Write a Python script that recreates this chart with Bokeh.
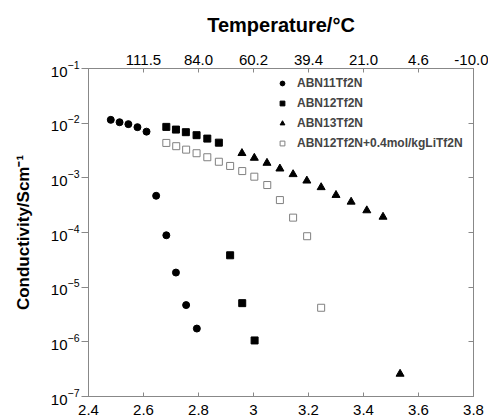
from bokeh.plotting import figure
from bokeh.models import (LinearAxis, LogAxis, FixedTicker, LogTickFormatter,
                          Legend, LegendItem, Range1d)
from bokeh.embed import file_html
from bokeh.resources import INLINE

# Data (x = 1000/T in K^-1, y = conductivity S/cm)
abn11_x = [2.481, 2.513, 2.545, 2.578, 2.611, 2.646, 2.683, 2.718, 2.755, 2.794]
abn11_y = [0.0115, 0.0104, 0.0096, 0.00845, 0.0070, 4.7e-4, 8.9e-5, 1.85e-5, 4.7e-6, 1.75e-6]

abn12_x = [2.683, 2.718, 2.754, 2.793, 2.832, 2.874, 2.915, 2.959, 3.004]
abn12_y = [0.00855, 0.00763, 0.00684, 0.00603, 0.00522, 0.0044, 3.83e-5, 5.1e-6, 1.06e-6]

abn13_x = [2.958, 3.003, 3.049, 3.096, 3.144, 3.194, 3.246, 3.300, 3.355, 3.412, 3.471, 3.533]
abn13_y = [0.00282, 0.00231, 0.00187, 0.00147, 0.00116, 0.000885, 0.00067, 0.000483,
           0.000364, 0.000253, 0.000193, 2.59e-7]

li_x = [2.683, 2.719, 2.755, 2.793, 2.832, 2.874, 2.915, 2.959, 3.003, 3.050, 3.096,
        3.144, 3.195, 3.246]
li_y = [0.00435, 0.00379, 0.00328, 0.00282, 0.00238, 0.00197, 0.00165, 0.00133, 0.00105,
        0.000738, 0.000392, 0.000187, 8.55e-5, 4.2e-6]

bottom_ticks = [2.4, 2.6, 2.8, 3.0, 3.2, 3.4, 3.6, 3.8]
bottom_labels = ["2.4", "2.6", "2.8", "3", "3.2", "3.4", "3.6", "3.8"]
top_ticks = [2.6, 2.8, 3.0, 3.2, 3.4, 3.6, 3.8]
top_labels = ["111.5", "84.0", "60.2", "39.4", "21.0", "4.6", "-10.0"]
y_ticks = [1e-7, 1e-6, 1e-5, 1e-4, 1e-3, 1e-2, 1e-1]

series_names = ["ABN11Tf2N", "ABN12Tf2N", "ABN13Tf2N", "ABN12Tf2N+0.4mol/kgLiTf2N"]

FONT = "Liberation Sans"
AX = "#888888"

p = figure(width=488, height=420, y_axis_type="log",
           x_range=Range1d(2.4, 3.8), y_range=Range1d(1e-7, 1e-1),
           output_backend="svg", toolbar_location=None,
           min_border_left=88, min_border_right=15, min_border_top=68,
           min_border_bottom=24, x_axis_location=None, y_axis_location=None)
p.xgrid.visible = False
p.ygrid.visible = False
p.outline_line_color = AX
p.background_fill_color = "white"

def style(ax, size="14px"):
    ax.axis_line_color = AX
    ax.major_tick_line_color = AX
    ax.minor_tick_line_color = None
    ax.major_label_text_font = FONT
    ax.major_label_text_font_size = size
    ax.major_label_text_color = "black"
    ax.axis_label_text_font = FONT
    ax.axis_label_text_font_style = "bold"
    ax.axis_label_text_color = "black"

# left axis
la = LogAxis(ticker=FixedTicker(ticks=y_ticks), formatter=LogTickFormatter(),
             axis_label="Conductivity/Scm\u207b\u00b9")
style(la, "15px")
la.major_tick_out = 7
la.major_tick_in = 0
la.major_label_standoff = 2
la.axis_label_text_font_size = "17px"
la.axis_label_standoff = 15
p.add_layout(la, "left")

# right axis
ra = LogAxis(ticker=FixedTicker(ticks=y_ticks))
style(ra)
ra.major_tick_out = 0
ra.major_tick_in = 5
ra.major_label_text_font_size = "0px"
ra.major_label_text_alpha = 0
p.add_layout(ra, "right")

# bottom axis
ba = LinearAxis(ticker=FixedTicker(ticks=bottom_ticks),
                major_label_overrides={t: l for t, l in zip(bottom_ticks, bottom_labels)})
style(ba, "15px")
ba.major_tick_out = 0
ba.major_tick_in = 4
ba.major_label_standoff = 8
p.add_layout(ba, "below")

# top axis
ta = LinearAxis(ticker=FixedTicker(ticks=top_ticks),
                major_label_overrides={t: l for t, l in zip(top_ticks, top_labels)},
                axis_label="Temperature/\u00b0C")
style(ta, "15px")
ta.major_tick_out = 0
ta.major_tick_in = 4
ta.major_label_standoff = 4
ta.axis_label_text_font_size = "20px"
ta.axis_label_standoff = 16
p.add_layout(ta, "above")

r1 = p.scatter(abn11_x, abn11_y, marker="circle", size=7, fill_color="black", line_color="black")
r2 = p.scatter(abn12_x, abn12_y, marker="square", size=7, fill_color="black", line_color="black")
r3 = p.scatter(abn13_x, abn13_y, marker="triangle", size=8, fill_color="black", line_color="black")
r4 = p.scatter(li_x, li_y, marker="square", size=7, fill_color="white", line_color="#808080",
               line_width=1)

legend = Legend(items=[LegendItem(label=n, renderers=[r]) for n, r in
                       zip(series_names, [r1, r2, r3, r4])],
                location=(187, 246))
legend.label_text_font = FONT
legend.label_text_font_style = "bold"
legend.label_text_font_size = "12px"
legend.glyph_width = 14
legend.glyph_height = 12
legend.label_height = 12
legend.label_standoff = 8
legend.spacing = 6
legend.padding = 0
legend.margin = 0
legend.border_line_color = None
legend.background_fill_alpha = 0
p.add_layout(legend, "center")

open("out.html", "w").write(file_html(p, INLINE))
